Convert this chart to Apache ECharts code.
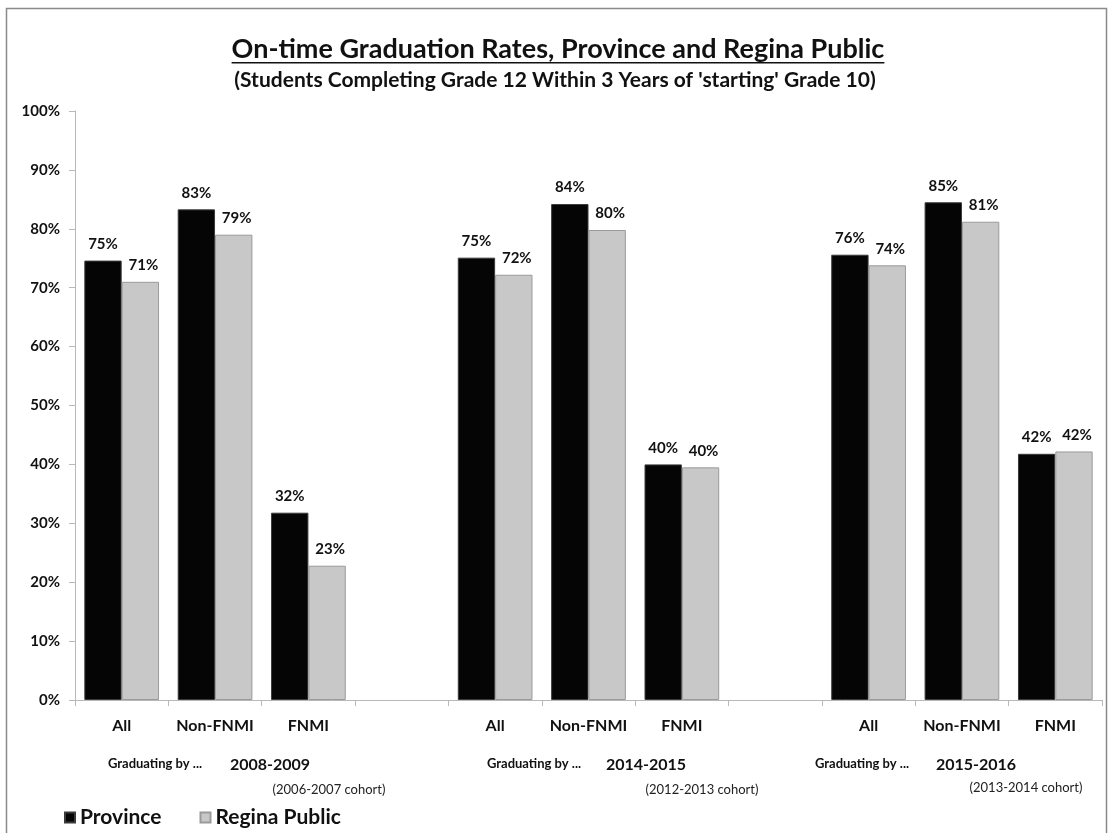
<!DOCTYPE html>
<html>
<head>
<meta charset="utf-8">
<script src="https://cdn.jsdelivr.net/npm/echarts@6/dist/echarts.min.js"></script>
<style>html,body{margin:0;padding:0;background:#fff}#c{width:1110px;height:833px}</style>
</head>
<body>
<div id="c"></div>
<script>
var categories = ['All','Non-FNMI','FNMI','', 'All','Non-FNMI','FNMI','', 'All','Non-FNMI','FNMI'];
var province = [74.6, 83.3, 31.8, null, 75.1, 84.2, 40.0, null, 75.6, 84.5, 41.8];
var reginaPublic = [71.0, 79.0, 22.8, null, 72.2, 79.8, 39.5, null, 73.8, 81.2, 42.2];
var yTicks = [0,10,20,30,40,50,60,70,80,90,100];
var groupYears = ['2008-2009','2014-2015','2015-2016'];
var groupCohorts = ['(2006-2007 cohort)','(2012-2013 cohort)','(2013-2014 cohort)'];
var titleText = 'On-time Graduation Rates, Province and Regina Public';
var subtitleText = "(Students Completing Grade 12 Within 3 Years of 'starting' Grade 10)";

var FONT = 'Lato, "Noto Sans", sans-serif';
var chart = echarts.init(document.getElementById('c'), null, {renderer:'canvas'});

function lbl(p){ return p.value == null ? '' : Math.round(p.value) + '%'; }

var TITLE_FONT = 'bold 27px ' + FONT;
var mc = document.createElement('canvas').getContext('2d');
mc.font = TITLE_FONT;
var tw = mc.measureText(titleText).width;

var gfx = [
  {type:'rect', shape:{x:6.5,y:8.5,width:1100,height:830}, style:{fill:'none', stroke:'#8a8a8a', lineWidth:1.5}, silent:true},
  {type:'text', x:558, y:49, style:{text:titleText, font:TITLE_FONT, fill:'#111', textAlign:'center', textVerticalAlign:'middle'}},
  {type:'rect', shape:{x:558 - tw/2, y:62, width:tw, height:1.6}, style:{fill:'#111'}},
  {type:'text', x:555, y:80, style:{text:subtitleText, font:'bold 21px '+FONT, fill:'#111', textAlign:'center', textVerticalAlign:'middle'}}
];
var gbx = [155, 534, 862];
var yrx = [270, 646, 976];
var chx = [329, 702, 1026];
var chy = [790, 790, 788];
for (var i=0;i<3;i++){
  gfx.push({type:'text', x:gbx[i], y:764, style:{text:'Graduating by ...', font:'bold 13px '+FONT, fill:'#111', textAlign:'center', textVerticalAlign:'middle'}});
  gfx.push({type:'text', x:yrx[i], y:765, style:{text:groupYears[i], font:'bold 16px '+FONT, fill:'#111', textAlign:'center', textVerticalAlign:'middle'}});
  gfx.push({type:'text', x:chx[i], y:chy[i], style:{text:groupCohorts[i], font:'13px '+FONT, fill:'#222', textAlign:'center', textVerticalAlign:'middle'}});
}

chart.setOption({
  animation:false,
  textStyle:{fontFamily:FONT},
  grid:{left:75, right:8, top:111, bottom:133, containLabel:false},
  legend:{
    left:59, top:802, itemWidth:10, itemHeight:10, itemGap:38,
    icon:'rect',
    textStyle:{fontSize:21, fontWeight:'bold', color:'#111', fontFamily:FONT},
    data:['Province','Regina Public']
  },
  xAxis:{
    type:'category', data:categories,
    axisLine:{lineStyle:{color:'#b8b8b8', width:1}},
    axisTick:{show:true, alignWithLabel:false, interval:0, length:6, lineStyle:{color:'#b8b8b8'}},
    axisLabel:{interval:0, margin:18, fontSize:16, fontWeight:'bold', color:'#111', fontFamily:FONT}
  },
  yAxis:{
    type:'value', min:0, max:100, interval:10,
    splitLine:{show:false},
    axisLine:{show:true, lineStyle:{color:'#b8b8b8'}},
    axisTick:{show:true, length:6, lineStyle:{color:'#b8b8b8'}},
    axisLabel:{formatter:function(v){return v+'%';}, fontSize:15, fontWeight:'bold', color:'#111', margin:15, fontFamily:FONT}
  },
  series:[
    {name:'Province', type:'bar', data:province, barGap:'0%', barCategoryGap:'20%',
     itemStyle:{color:'#050505', borderColor:'#3a3a3a', borderWidth:1},
     label:{show:true, position:'top', distance:9, formatter:lbl, fontSize:15, fontWeight:'bold', color:'#111'}},
    {name:'Regina Public', type:'bar', data:reginaPublic,
     itemStyle:{color:'#c8c8c8', borderColor:'#9a9a9a', borderWidth:1},
     label:{show:true, position:'top', distance:9, offset:[3,0], formatter:lbl, fontSize:15, fontWeight:'bold', color:'#111'}}
  ],
  graphic:gfx
});
</script>
</body>
</html>
